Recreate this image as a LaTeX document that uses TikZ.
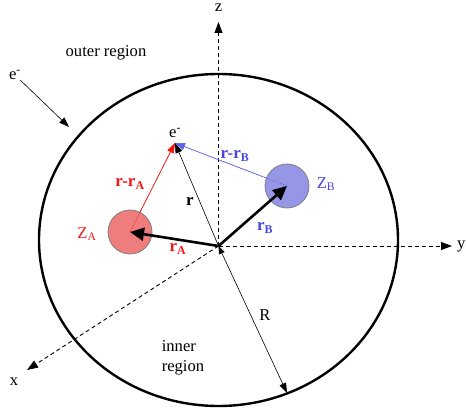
\documentclass[tikz,border=0pt]{standalone}
\usepackage{fontspec}
\setmainfont{Liberation Serif}
\usetikzlibrary{arrows.meta,calc}
\definecolor{myred}{RGB}{245,20,20}
\definecolor{myblue}{RGB}{70,70,220}
\definecolor{blueline}{RGB}{90,100,230}
\definecolor{redfill}{RGB}{240,125,125}
\definecolor{bluefill}{RGB}{150,150,230}
\begin{document}
\begin{tikzpicture}[x=1pt,y=-1pt,
  lbl/.style={font=\fontsize{16.6}{20}\selectfont, inner sep=0pt},
  blbl/.style={font=\fontsize{17}{20}\selectfont\bfseries, inner sep=0pt},
  axis/.style={dash pattern=on 4pt off 3pt, line width=0.9pt, -{Triangle[length=11pt,width=8pt]}},
  thinarrow/.style={line width=0.6pt, -{Triangle[length=10pt,width=7pt]}},
  thickarrow/.style={line width=2.6pt, -{Triangle[length=14pt,width=13pt]}},
  sphere/.style={circle, minimum size=44pt, inner sep=0pt, draw=gray, line width=0.8pt}
]
\useasboundingbox (0,0) rectangle (466,414);
% boundary
\draw[line width=2.4pt] (218.5,240) ellipse [x radius=179.5, y radius=166];
% coordinates
\coordinate (O) at (218.5,246);
\coordinate (E) at (175,143);
\coordinate (ztip) at (218.5,22);
\coordinate (ytip) at (452,246);
\coordinate (xtip) at (27,370);
\coordinate (Rend) at (287,393);
\coordinate (eoutend) at (69,127);
% spheres
\node[sphere, fill=redfill] (ZA) at (130,232) {};
\node[sphere, fill=bluefill] (ZB) at (287,186) {};
% axes
\draw[axis] (O) -- (ztip);
\draw[axis] (O) -- (ytip);
\draw[axis] (O) -- (xtip);
\node[lbl] (zl) at (218.5,8) {z};
\node[lbl, anchor=west] (yl) at (457,246) {y};
\node[lbl] (xl) at (14,382) {x};
% R
\draw[line width=0.6pt, {Triangle[length=8pt,width=6pt]}-{Triangle[length=10pt,width=7pt]}] (O) -- (Rend);
% electron
\node[lbl] (el) at (175,133) {e\textsuperscript{-}};
% r - rA and r - rB
\draw[myred, densely dotted, line width=0.7pt] (ZA.center) -- (E);
\draw[blueline, densely dotted, line width=0.7pt] (ZB.center) -- (E);
\draw[thinarrow, myred] (ZA) -- (E);
\draw[thinarrow, blueline] (ZB) -- (E);
\draw[thinarrow] (O) -- (E);
% rA, rB
\draw[thickarrow] (O) -- (ZA.center);
\draw[thickarrow] (O) -- (ZB.center);
% outer electron
\node[lbl] (eout) at (15,75) {e\textsuperscript{-}};
\draw[thinarrow] (eout) -- (eoutend);
% labels
\node[lbl] (outer) at (106,53) {outer region};
\node[lbl, align=left] (inner) at (183,358) {inner\\region};
\node[lbl] (Rl) at (265,315) {R};
\node[blbl, myred] (rra) at (130,184) {r-r\textsubscript{A}};
\node[blbl] (rl) at (190,201) {r};
\node[blbl, myblue] (rrb) at (235,156) {r-r\textsubscript{B}};
\node[lbl, myblue] (zb) at (326,184) {Z\textsubscript{B}};
\node[lbl, myred] (za) at (87,234) {Z\textsubscript{A}};
\node[blbl, myred] (ra) at (178,249) {r\textsubscript{A}};
\node[blbl, myblue] (rb) at (265,228) {r\textsubscript{B}};
\end{tikzpicture}
\end{document}
